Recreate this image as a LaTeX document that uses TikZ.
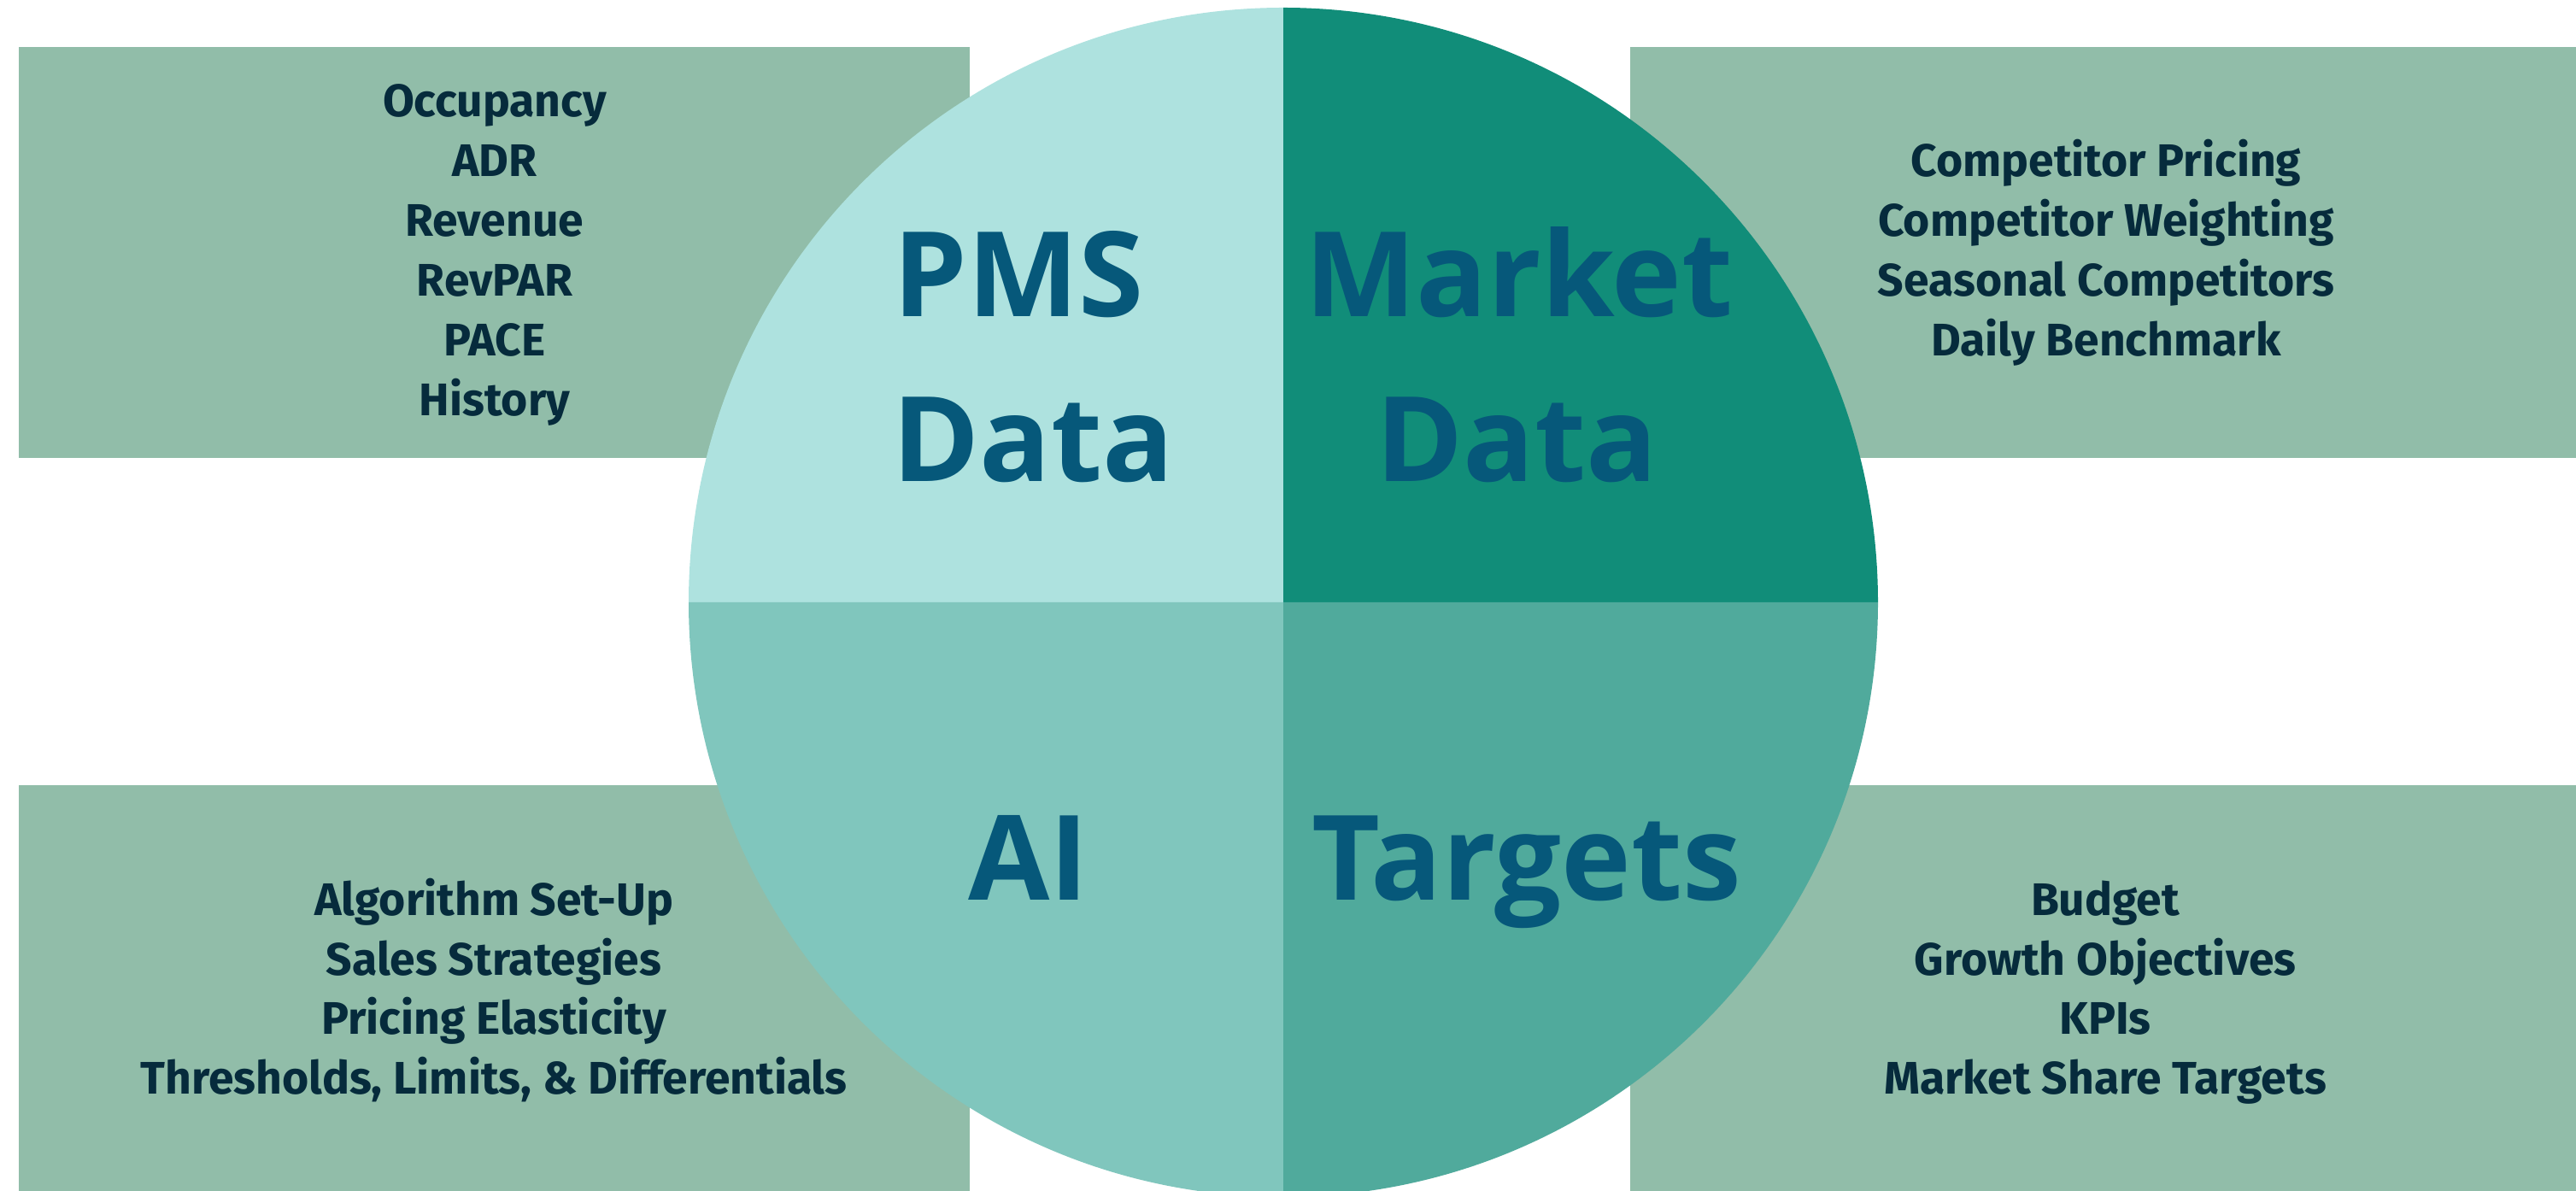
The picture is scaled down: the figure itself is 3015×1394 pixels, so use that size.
\documentclass[tikz,border=0pt]{standalone}
\usepackage{fontspec}
\setmainfont{Fira Sans}
\newfontfamily\listfont{Fira Sans}
\newfontfamily\titlefont{Open Sans}
\usetikzlibrary{positioning}
\definecolor{sidegreen}{HTML}{91BDA9}
\definecolor{pmsfill}{HTML}{AEE2DF}
\definecolor{marketfill}{HTML}{118D79}
\definecolor{aifill}{HTML}{80C6BD}
\definecolor{targetfill}{HTML}{50AA9C}
\definecolor{titleblue}{HTML}{06587A}
\definecolor{listnavy}{HTML}{062B3C}
\tikzset{sidebox/.style = {fill=sidegreen},
         itemtext/.style = {anchor=base, inner sep=0pt, text=listnavy,
                            font=\listfont\bfseries\fontsize{15.2}{18}\selectfont},
         bigtext/.style = {anchor=base, inner sep=0pt, text=titleblue,
                           font=\titlefont\bfseries\fontsize{39.3}{45}\selectfont}}

\begin{document}
\begin{tikzpicture}[x=0.01cm, y=0.01cm]
      \useasboundingbox (0, 0) rectangle (3015, 1394);
      \clip (0, 0) rectangle (3015, 1394);
      % side boxes
      \fill [sidebox] (22, 858) rectangle (1135, 1339);
      \fill [sidebox] (1908, 858) rectangle (3015, 1339);
      \fill [sidebox] (22, 0) rectangle (1135, 475);
      \fill [sidebox] (1908, 0) rectangle (3015, 475);
      % the wheel
      \coordinate (hub) at (1502, 689);
      \fill [pmsfill] (hub) -- ++(90:696) arc (90:180:696) -- cycle;
      \fill [marketfill] (hub) -- ++(0:696) arc (0:90:696) -- cycle;
      \fill [aifill] (hub) -- ++(180:696) arc (180:270:696) -- cycle;
      \fill [targetfill] (hub) -- ++(270:696) arc (270:360:696) -- cycle;
      \node [bigtext] (pms) at (1192, 1023) {PMS};
      \node [bigtext] (pmsdata) at (1209, 830) {Data};
      \node [bigtext] (market) at (1778, 1023) {Market};
      \node [bigtext] (marketdata) at (1775, 830) {Data};
      \node [bigtext] (ai) at (1204, 340) {AI};
      \node [bigtext] (targets) at (1787, 340) {Targets};
      % lists
      \foreach \txt [count=\i from 0] in {Occupancy, ADR, Revenue, RevPAR, PACE, History}
        \node [itemtext] (pms-item-\i) at (579, 1257-70*\i) {\txt};
      \foreach \txt [count=\i from 0] in {Competitor Pricing, Competitor Weighting,
                                          Seasonal Competitors, Daily Benchmark}
        \node [itemtext] (market-item-\i) at (2465, 1187-70*\i) {\txt};
      \foreach \txt [count=\i from 0] in {Algorithm Set-Up, Sales Strategies, Pricing Elasticity,
                                          {Thresholds, Limits, \& Differentials}}
        \node [itemtext] (ai-item-\i) at (578, 322-69.5*\i) {\txt};
      \foreach \txt [count=\i from 0] in {Budget, Growth Objectives, KPIs, Market Share Targets}
        \node [itemtext] (target-item-\i) at (2464, 322-69.5*\i) {\txt};
    \end{tikzpicture}
\end{document}
